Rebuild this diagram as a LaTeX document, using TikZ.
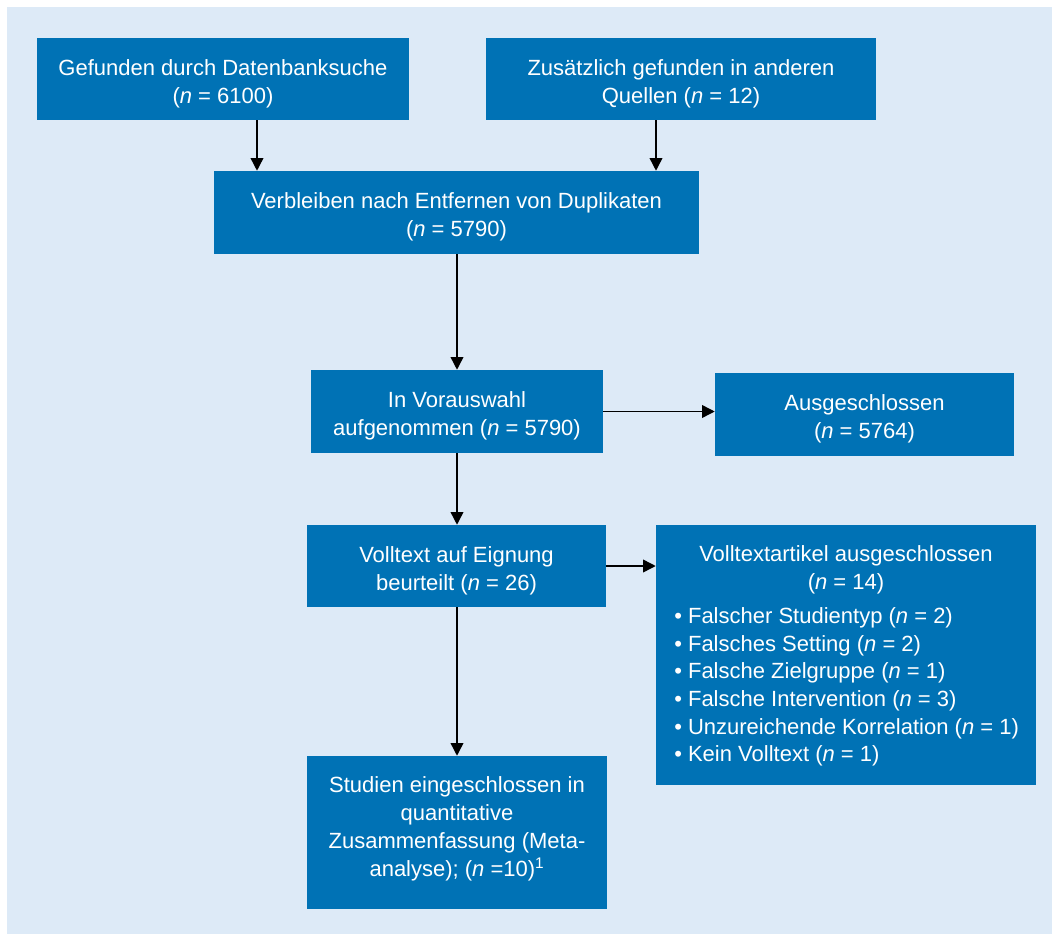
\documentclass[tikz,border=0pt]{standalone}
\usepackage{fontspec}
\setmainfont{Liberation Sans}
\usetikzlibrary{arrows.meta,calc}
\definecolor{bg}{HTML}{DDEAF7}
\definecolor{boxblue}{HTML}{0072B5}
\begin{document}
\begin{tikzpicture}[x=0.75pt,y=-0.75pt,
  box/.style={rectangle, fill=boxblue, inner sep=0pt},
  txt/.style={text=white, inner sep=0pt, align=center, font=\fontsize{16.5}{21.2}\selectfont},
  boxtext/.style={txt, yshift=-3.4pt},
  arr/.style={-{Triangle[length=9.5pt,width=9.5pt]}, line width=1.1pt, black}]
\useasboundingbox (0,0) rectangle (1052,934);
\fill[white] (0,0) rectangle (1052,934);
\fill[bg] (7,7) rectangle (1052,934);

\node[box, minimum width=279pt, minimum height=61.5pt] (b1) at (223,79) {};
\node[boxtext] (t1) at (b1.center) {Gefunden durch Datenbanksuche\\(\textit{n} = 6100)};
\node[box, minimum width=292.5pt, minimum height=61.5pt] (b2) at (681,79) {};
\node[boxtext] (t2) at (b2.center) {Zusätzlich gefunden in anderen\\Quellen (\textit{n} = 12)};
\node[box, minimum width=363.75pt, minimum height=62.25pt] (b3) at (456.5,212.5) {};
\node[boxtext] (t3) at (b3.center) {Verbleiben nach Entfernen von Duplikaten\\(\textit{n} = 5790)};
\node[box, minimum width=219pt, minimum height=62.25pt] (b4) at (457,411.5) {};
\node[boxtext] (t4) at (b4.center) {In Vorauswahl\\aufgenommen (\textit{n} = 5790)};
\node[box, minimum width=224.25pt, minimum height=62.25pt] (b5) at (864.5,414.5) {};
\node[boxtext] (t5) at (b5.center) {Ausgeschlossen\\(\textit{n} = 5764)};
\node[box, minimum width=224.25pt, minimum height=61.5pt] (b6) at (456.5,566) {};
\node[boxtext] (t6) at (b6.center) {Volltext auf Eignung\\beurteilt (\textit{n} = 26)};
\node[box, minimum width=285pt, minimum height=195pt] (b7) at (846,655) {};
\node[txt] (b7t) at (846,570)
  {Volltextartikel ausgeschlossen\\(\textit{n} = 14)};
\node[txt, align=left, anchor=west, font=\fontsize{16.5}{20.7}\selectfont] (b7l) at (674,687)
  {• Falscher Studientyp (\textit{n} = 2)\\
   • Falsches Setting (\textit{n} = 2)\\
   • Falsche Zielgruppe (\textit{n} = 1)\\
   • Falsche Intervention (\textit{n} = 3)\\
   • Unzureichende Korrelation (\textit{n} = 1)\\
   • Kein Volltext (\textit{n} = 1)};
\node[box, minimum width=225pt, minimum height=114.75pt] (b8) at (457,832.5) {};
\node[txt, font=\fontsize{16.5}{21}\selectfont] (b8t) at (457,829)
  {Studien eingeschlossen in\\quantitative\\Zusammenfassung (Meta-\\analyse); (\textit{n} =10)\textsuperscript{1}};

\coordinate (c1) at (257,0);
\coordinate (c2) at (656,0);
\draw[arr] (c1 |- b1.south) -- (c1 |- b3.north);
\draw[arr] (c2 |- b2.south) -- (c2 |- b3.north);
\draw[arr] (b3.south -| b4.north) -- (b4.north);
\draw[arr] (b4.east) -- (b4.east -| b5.west);
\draw[arr] (b4.south) -- (b4.south |- b6.north);
\draw[arr] (b6.east) -- (b6.east -| b7.west);
\draw[arr] (b6.south -| b8.north) -- (b8.north);
\end{tikzpicture}
\end{document}
